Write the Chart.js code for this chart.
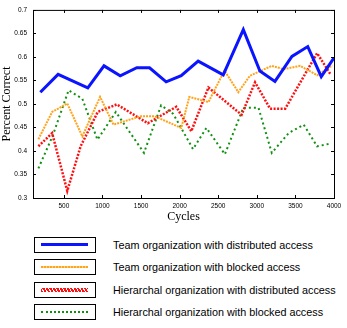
<!DOCTYPE html>
<html lang="en">
<head>
<meta charset="UTF-8">
<title>Percent Correct vs Cycles</title>
<script src="https://cdn.jsdelivr.net/npm/chart.js"></script>
<style>
  body { margin: 0; background: #fff; font-family: "Liberation Sans", Arial, sans-serif; }
  #wrap { position: relative; width: 347px; height: 328px; }
  #chart { position: absolute; left: 0; top: 0; }
  .box { position: absolute; left: 34px; width: 60px; height: 14px; border: 1px solid #000; background: #fff; }
  .sample { position: absolute; left: 6px; top: 6px; width: 47px; }
  .txt { position: absolute; left: 113px; font-size: 10.8px; color: #000; white-space: nowrap; }
</style>
</head>
<body>
<div id="wrap">
  <canvas id="chart" width="347" height="224"></canvas>
  <div id="legend"></div>
</div>

<script>
// values (cycles, percent correct)
const teamDistX = [195, 425, 810, 1020, 1230, 1445, 1610, 1825, 2020, 2240, 2565, 2825, 3040, 3235, 3455, 3660, 3835, 4000];
const teamDistY = [0.525, 0.563, 0.534, 0.581, 0.560, 0.577, 0.577, 0.547, 0.560, 0.591, 0.562, 0.658, 0.570, 0.548, 0.601, 0.622, 0.558, 0.598];

const teamBlockX = [170, 348, 544, 739, 969, 1143, 1499, 1673, 2021, 2125, 2373, 2581, 2760, 2911, 3194, 3347, 3563, 3781, 3977];
const teamBlockY = [0.425, 0.483, 0.501, 0.431, 0.515, 0.456, 0.474, 0.474, 0.449, 0.515, 0.504, 0.571, 0.525, 0.560, 0.581, 0.574, 0.581, 0.561, 0.582];

const hierDistX = [170, 348, 544, 717, 939, 1186, 1587, 1956, 2151, 2373, 2803, 2977, 3172, 3368, 3781, 3955];
const hierDistY = [0.410, 0.438, 0.315, 0.410, 0.483, 0.499, 0.459, 0.494, 0.442, 0.535, 0.477, 0.546, 0.490, 0.490, 0.608, 0.563];

const hierBlockX = [170, 352, 561, 739, 935, 1173, 1538, 1760, 1917, 2173, 2347, 2586, 2825, 3021, 3194, 3412, 3608, 3781, 3934];
const hierBlockY = [0.363, 0.431, 0.529, 0.511, 0.424, 0.483, 0.396, 0.497, 0.479, 0.404, 0.449, 0.393, 0.492, 0.492, 0.396, 0.438, 0.456, 0.410, 0.415];

const seriesNames = [
  'Team organization with distributed access',
  'Team organization with blocked access',
  'Hierarchal organization with distributed access',
  'Hierarchal organization with blocked access'
];

const yTicks = [0.3, 0.35, 0.4, 0.45, 0.5, 0.55, 0.6, 0.65, 0.7];
const xTicks = [500, 1000, 1500, 2000, 2500, 3000, 3500, 4000];

function pts(xs, ys) { return xs.map((x, i) => ({ x: x, y: ys[i] })); }

// frame round the plot, with small inward ticks
const framePlugin = {
  id: 'frame',
  afterDraw(chart) {
    const { ctx, chartArea: a, scales } = chart;
    ctx.save();
    ctx.strokeStyle = '#000';
    ctx.lineWidth = 1;
    ctx.strokeRect(a.left + 0.5, a.top + 0.5, a.right - a.left, a.bottom - a.top);
    ctx.beginPath();
    yTicks.forEach(v => {
      const y = Math.round(scales.y.getPixelForValue(v)) + 0.5;
      ctx.moveTo(a.left, y); ctx.lineTo(a.left + 3, y);
      ctx.moveTo(a.right, y); ctx.lineTo(a.right - 3, y);
    });
    xTicks.forEach(v => {
      const x = Math.round(scales.x.getPixelForValue(v)) + 0.5;
      ctx.moveTo(x, a.bottom); ctx.lineTo(x, a.bottom - 3);
      ctx.moveTo(x, a.top); ctx.lineTo(x, a.top + 3);
    });
    ctx.stroke();
    ctx.restore();
  }
};

new Chart(document.getElementById('chart'), {
  type: 'line',
  data: {
    datasets: [
      { label: seriesNames[0], data: pts(teamDistX, teamDistY), borderColor: '#0a14ff', borderWidth: 3 },
      { label: seriesNames[1], data: pts(teamBlockX, teamBlockY), borderColor: '#ffa31a', borderWidth: 2, borderDash: [2, 1] },
      { label: seriesNames[2], data: pts(hierDistX, hierDistY), borderColor: '#ff1010', borderWidth: 2.5, borderDash: [2, 1.5] },
      { label: seriesNames[3], data: pts(hierBlockX, hierBlockY), borderColor: '#109010', borderWidth: 2, borderDash: [2, 3] }
    ]
  },
  options: {
    responsive: false,
    animation: false,
    devicePixelRatio: 1,
    layout: { padding: { top: 6, right: 13, left: 0, bottom: 0 } },
    elements: { point: { radius: 0 }, line: { tension: 0 } },
    plugins: { legend: { display: false }, tooltip: { enabled: false } },
    scales: {
      x: {
        type: 'linear', min: 100, max: 4000,
        grid: { display: false, drawTicks: false },
        border: { display: false },
        afterBuildTicks: s => { s.ticks = xTicks.map(v => ({ value: v })); },
        afterFit: s => { s.height = 26; },
        ticks: { color: '#000', font: { size: 6.5, family: '"Liberation Sans"' }, padding: 4, maxRotation: 0,
                 callback: v => String(v) },
        title: { display: true, text: 'Cycles', color: '#000', padding: 0,
                 font: { family: '"Liberation Serif", serif', size: 12 } }
      },
      y: {
        min: 0.3, max: 0.7,
        grid: { display: false, drawTicks: false },
        border: { display: false },
        afterBuildTicks: s => { s.ticks = yTicks.map(v => ({ value: v })); },
        afterFit: s => { s.width = 33; },
        ticks: { color: '#000', font: { size: 6.5, family: '"Liberation Sans"' }, padding: 6,
                 callback: v => String(+v.toFixed(2)) },
        title: { display: true, text: 'Percent Correct', color: '#000', padding: 0,
                 font: { family: '"Liberation Serif", serif', size: 12 } }
      }
    }
  },
  plugins: [framePlugin]
});

// legend below the chart
const legendRows = [
  { top: 237, css: 'border-top: 3px solid #0a14ff; top: 5px;' },
  { top: 259, css: 'height: 2px; background: repeating-linear-gradient(90deg, #ffa31a 0 2px, #ffd080 2px 3px);' },
  { top: 282, css: 'height: 4px; top: 5px; background: repeating-linear-gradient(60deg, #ff1010 0 2px, #fff 2px 3px);' },
  { top: 304, css: 'border-top: 2px dotted #109010;' }
];
const legend = document.getElementById('legend');
legendRows.forEach((r, i) => {
  const box = document.createElement('div');
  box.className = 'box';
  box.style.top = r.top + 'px';
  const s = document.createElement('div');
  s.className = 'sample';
  s.style.cssText += r.css;
  box.appendChild(s);
  legend.appendChild(box);
  const t = document.createElement('div');
  t.className = 'txt';
  t.style.top = (r.top + 2) + 'px';
  t.textContent = seriesNames[i];
  legend.appendChild(t);
});
</script>
</body>
</html>
